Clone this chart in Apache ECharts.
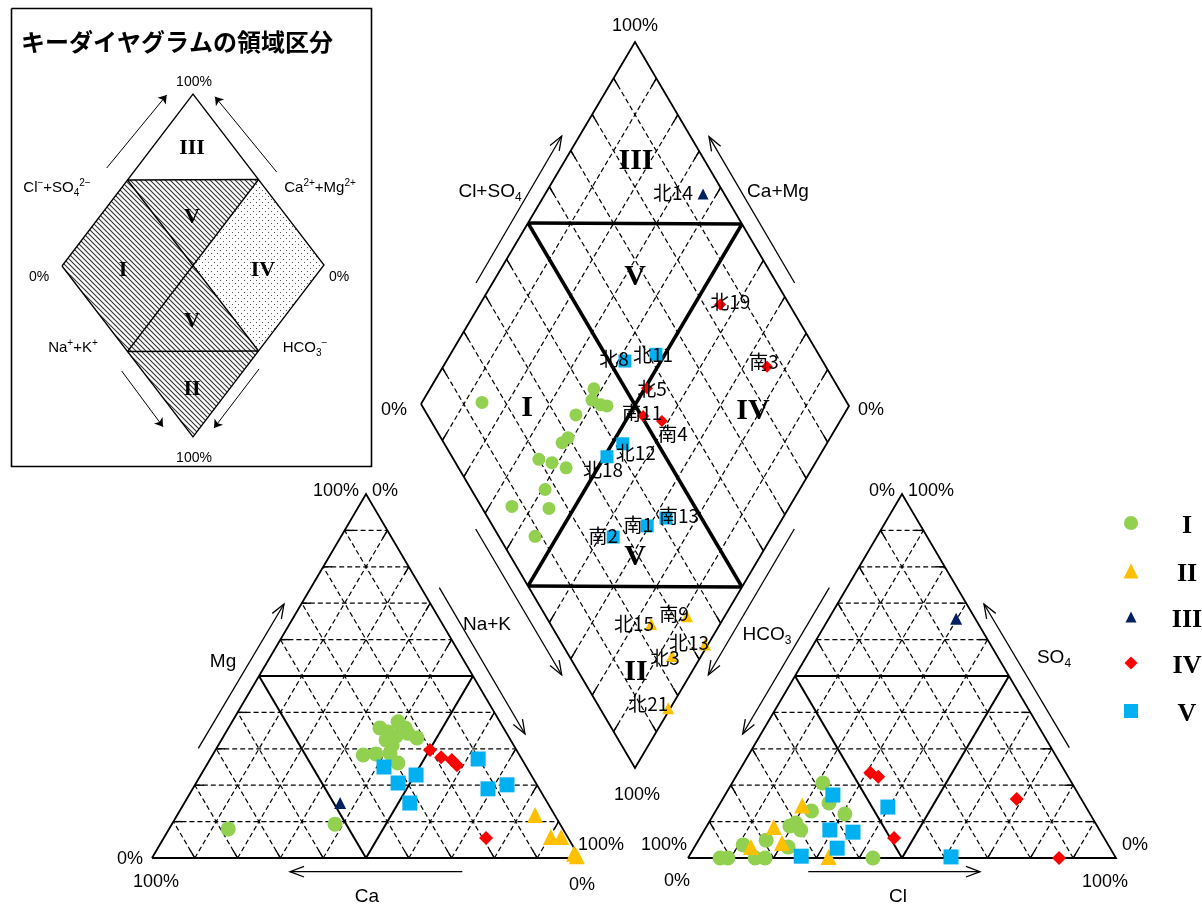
<!DOCTYPE html>
<html><head><meta charset="utf-8">
<script src="https://cdn.jsdelivr.net/npm/echarts@6/dist/echarts.min.js"></script>
<style>html,body{margin:0;padding:0;background:#fff}#c{width:1202px;height:908px}</style>
</head><body><div id="c"></div>
<script>
// ================= DATA =================
const GROUPS = ['I', 'II', 'III', 'IV', 'V'];
const TICK_ZERO = '0%', TICK_FULL = '100%';
const TITLE = 'キーダイヤグラムの領域区分';
const NAMES_II = ['北15', '南9', '北13', '北3', '北21'];
const NAMES_III = ['北14'];
const NAMES_IV = ['北19', '南3', '北5', '南11', '南4'];
const NAMES_V = ['北8', '北11', '北12', '北18', '南1', '南13', '南2'];

// cation triangle  [Ca, Mg, Na+K]  (%)
const catI = [[28.9,35.7,35.4],[23.8,37.4,38.8],[23.0,35.7,41.3],[27.6,34.6,37.8],[23.1,34.3,42.6],
  [21.6,33.0,45.4],[29.1,32.4,38.5],[28.4,31.0,40.6],[30.0,28.8,41.2],[36.5,28.3,35.2],
  [33.4,28.6,38.0],[29.5,26.1,44.4],[52.6,9.3,38.1],[78.2,8.0,13.8],[26.2,33.5,40.3]];
const catII = [[4.6,11.8,83.6],[3.9,5.8,90.3],[1.5,5.8,92.7],[0.5,0.5,99.0],[0.8,1.2,98.0]];
const catIII = [[48.5,15.1,36.4]];
const catIV = [[20.2,29.7,50.1],[18.6,27.7,53.7],[16.5,26.9,56.6],[16.0,25.5,58.5],[19.2,5.5,75.3]];
const catV = [[33.3,25.0,41.7],[32.2,20.6,47.2],[26.9,22.8,50.3],[32.2,15.1,52.7],[10.2,27.2,62.6],
  [12.0,19.0,69.0],[7.0,20.1,72.9]];

// anion triangle  [HCO3, SO4, Cl]  (%)
const anI = [[58.2,20.6,21.2],[59.5,15.1,25.4],[64.7,12.9,22.4],[57.3,12.1,30.6],[70.0,9.6,20.4],
  [71.8,8.8,19.4],[69.8,7.7,22.5],[79.3,4.9,15.8],[85.3,3.6,11.1],[75.1,3.0,21.9],
  [92.5,0,7.5],[90.7,0,9.3],[84.3,0,15.7],[82.0,0,18.0],[56.8,0,43.2]];
const anII = [[66.1,14.4,19.5],[75.7,8.5,15.8],[76.0,4.1,19.9],[83.8,3.0,13.2],[67.0,0.3,32.7]];
const anIII = [[4.5,65.7,29.8]];
const anIV = [[45.7,23.4,30.9],[44.4,22.3,33.3],[15.1,16.2,68.7],[49.1,5.5,45.4],[13.3,0,86.7]];
const anV = [[57.5,17.3,25.2],[46.3,14.0,39.7],[63.0,7.7,29.3],[57.9,7.1,35.0],[63.8,2.7,33.5],
  [73.3,0.5,26.2],[38.4,0.3,61.3]];

// diamond  [Cl+SO4, Na+K]  (%)
const dmI = [[14.5,14.0],[42.6,38.2],[40.6,39.3],[42.0,42.0],[43.3,43.6],[34.8,37.6],[29.8,38.9],
  [27.7,38.2],[20.0,35.1],[22.6,38.6],[25.2,42.6],[17.3,40.7],[7.2,35.3],[15.6,44.2],[8.5,44.8]];
const dmII = [[23.6,83.9],[33.1,91.2],[33.4,99.3],[24.1,93.2],[16.0,99.5]];
const dmIII = [[95.0,36.8]];
const dmIV = [[83.8,56.0],[86.2,75.5],[55.1,50.5],[50.4,53.4],[54.1,58.5]];
const dmV = [[53.7,41.6],[61.9,47.9],[41.8,52.5],[36.3,50.6],[36.2,69.5],[41.7,72.8],[26.7,63.1]];

// ================= LAYOUT / STYLE =================
const COLORS = ['#92D050', '#FFC000', '#002060', '#FF0000', '#00B0F0'];
const SYMBOLS = ['circle', 'triangle', 'triangle', 'diamond', 'rect'];
const SIZE_TRI = [15, 16, 12, 14, 15];
const SIZE_DM = [13, 12, 11, 12, 13];
const SIZE_LEG = [14, 15, 11, 13, 14];
const LABEL_OFF = {'北15':[-17,0],'南9':[-13,-2],'北13':[-16,-2],'北3':[-7,2],'北21':[-20,-4],
  '北14':[-30,-1],'北19':[10,-3],'南3':[-3,-5],'北5':[5,0],'南11':[-1,-3],'南4':[11,13],
  '北8':[-11,-2],'北11':[-3,1],'北12':[13,9],'北18':[-4,13],'南1':[-9,-1],'南13':[13,-2],'南2':[-10,-1]};

const CAT = {x0:152, y0:858, w:428, h:364};
const AN = {x0:688, y0:858, w:428, h:364};
const DM = {L:[421,404], T:[635,42], B:[635,768]};
const KEY = {L:[62,266], T:[193,94], B:[193,437]};

function triXY(T, a, b, g) { return [T.x0 + T.w * (b + g / 2), T.y0 - T.h * g]; }
function rhXY(D, a, c) {
  return [D.L[0] + a * (D.T[0] - D.L[0]) + c * (D.B[0] - D.L[0]),
          D.L[1] + a * (D.T[1] - D.L[1]) + c * (D.B[1] - D.L[1])];
}
const catXY = v => triXY(CAT, v[0] / 100, v[2] / 100, v[1] / 100);
const anXY = v => triXY(AN, v[0] / 100, v[2] / 100, v[1] / 100);
const dmXY = v => rhXY(DM, v[0] / 100, v[1] / 100);

// ---- structural segments ----
const solid = [], medium = [], dashed = [], ticks = [], thick = [], arrows = [];
function tickSeg(p, q, len) {
  const dx = q[0] - p[0], dy = q[1] - p[1], d = Math.hypot(dx, dy);
  return [p, [p[0] + dx / d * len, p[1] + dy / d * len]];
}
function triGrid(T, tickEnds) {
  const A = triXY(T, 1, 0, 0), B = triXY(T, 0, 1, 0), C = triXY(T, 0, 0, 1);
  solid.push([A, B, C, A]);
  for (let k = 1; k <= 9; k++) {
    const f = k / 10;
    const fam = {
      g: [triXY(T, 1 - f, 0, f), triXY(T, 0, 1 - f, f)],
      a: [triXY(T, f, 1 - f, 0), triXY(T, f, 0, 1 - f)],
      b: [triXY(T, 1 - f, f, 0), triXY(T, 0, f, 1 - f)]
    };
    for (const key of ['g', 'a', 'b']) {
      const s = fam[key];
      if (k === 5) { medium.push(s); continue; }
      dashed.push(s);
      const e = tickEnds[key];
      ticks.push(e === 0 ? tickSeg(s[0], s[1], 9) : tickSeg(s[1], s[0], 9));
    }
  }
}
triGrid(CAT, {g: 0, a: 0, b: 1});
triGrid(AN, {g: 1, a: 1, b: 0});

(function diamondGrid() {
  const L = rhXY(DM, 0, 0), T = rhXY(DM, 1, 0), R = rhXY(DM, 1, 1), B = rhXY(DM, 0, 1);
  solid.push([L, T, R, B, L]);
  for (let k = 1; k <= 9; k++) {
    if (k === 5) continue;
    const f = k / 10;
    const s1 = [rhXY(DM, f, 0), rhXY(DM, f, 1)], s2 = [rhXY(DM, 0, f), rhXY(DM, 1, f)];
    for (const s of [s1, s2]) {
      dashed.push(s);
      ticks.push(tickSeg(s[0], s[1], 9), tickSeg(s[1], s[0], 9));
    }
  }
  thick.push([rhXY(DM, .5, 0), rhXY(DM, .5, 1)], [rhXY(DM, 0, .5), rhXY(DM, 1, .5)],
             [rhXY(DM, .5, 0), rhXY(DM, 1, .5)], [rhXY(DM, 0, .5), rhXY(DM, .5, 1)]);
})();

// open arrows
function openArrow(p, q) {
  const ang = Math.atan2(q[1] - p[1], q[0] - p[0]), len = 15, sp = 0.36;
  arrows.push([p, q]);
  arrows.push([[q[0] - len * Math.cos(ang - sp), q[1] - len * Math.sin(ang - sp)], q,
               [q[0] - len * Math.cos(ang + sp), q[1] - len * Math.sin(ang + sp)]]);
}
[[[476,283],[561.7,136]], [[794.7,283],[709,136.7]], [[475.7,529],[561.7,675]], [[794.3,529],[708.3,675]],
 [[198.3,748.3],[284,604]], [[439.3,587.7],[525,734]], [[462.3,871.7],[290,871.7]],
 [[829.3,587.7],[742.7,734]], [[1069.3,747.7],[984,604]], [[808.3,871.7],[980,871.7]]]
  .forEach(a => openArrow(a[0], a[1]));

// key diagram
const keyLines = [];
(function () {
  const P = (a, c) => rhXY(KEY, a, c);
  keyLines.push([P(0,0), P(1,0), P(1,1), P(0,1), P(0,0)]);
  keyLines.push([P(.5,0), P(1,.5)], [P(0,.5), P(.5,1)], [P(.5,0), P(.5,1)], [P(0,.5), P(1,.5)]);
})();
const keyArrows = [[[106.7,168],[166.7,95]], [[276.7,172],[215,96.7]], [[121.7,371],[163,426.7]], [[259,369],[214,428]]];

function makeHatch() {
  const c = document.createElement('canvas'); c.width = c.height = 5;
  const g = c.getContext('2d'); g.strokeStyle = '#333'; g.lineWidth = 1.1;
  g.beginPath(); g.moveTo(-1, -1); g.lineTo(6, 6); g.moveTo(-1, 4); g.lineTo(1, 6); g.moveTo(4, -1); g.lineTo(6, 1); g.stroke();
  return c;
}
function makeDots() {
  const c = document.createElement('canvas'); c.width = c.height = 6;
  const g = c.getContext('2d'); g.fillStyle = '#555';
  g.fillRect(1, 1, 1, 1); g.fillRect(4, 4, 1, 1);
  return c;
}
const HATCH = {image: makeHatch(), repeat: 'repeat'};
const DOTS = {image: makeDots(), repeat: 'repeat'};
const KEY_POLYS = [
  {pts: [[.5,0],[1,.5],[.5,.5]], fill: HATCH},
  {pts: [[0,0],[.5,0],[.5,.5],[0,.5]], fill: HATCH},
  {pts: [[.5,.5],[.5,1],[0,.5]], fill: HATCH},
  {pts: [[0,.5],[.5,1],[0,1]], fill: HATCH},
  {pts: [[1,.5],[1,1],[.5,1],[.5,.5]], fill: DOTS}
];

// ================= TEXT =================
const SANS = 'Liberation Sans, Arial, sans-serif';
const SERIF = 'Liberation Serif, Times New Roman, serif';
const CJK = 'Noto Sans CJK JP, sans-serif';
const pctTexts = [
  [635,26,TICK_FULL],[394,410,TICK_ZERO],[871,410,TICK_ZERO],[637,795,TICK_FULL],
  [130,859,TICK_ZERO],[156,882,TICK_FULL],[336,491,TICK_FULL],[385,491,TICK_ZERO],[601,845,TICK_FULL],[582,885,TICK_ZERO],
  [882,491,TICK_ZERO],[931,491,TICK_FULL],[664,845,TICK_FULL],[677,881,TICK_ZERO],[1135,845,TICK_ZERO],[1105,882,TICK_FULL]
];
const axisTexts = [
  [490,192,'{n|Cl+SO}{s|4}'],[778,192,'{n|Ca+Mg}'],[487,625,'{n|Na+K}'],[767,635,'{n|HCO}{s|3}'],
  [223,662,'{n|Mg}'],[367,897,'{n|Ca}'],[1054,658,'{n|SO}{s|4}'],[898,897,'{n|Cl}']
];
const romanTexts = [[527,408,'I'],[636,161,'III'],[635,277,'V'],[753,411,'IV'],[635,557,'V'],[636,672,'II']];
const keyRoman = [[192,148,'III'],[192,217,'V'],[123,270,'I'],[263,270,'IV'],[192,321,'V'],[192,389,'II']];
const keyTexts = [
  [194,82,TICK_FULL],[194,458,TICK_FULL],[39,277,TICK_ZERO],[339,277,TICK_ZERO]
];
const keyIons = [
  [57,188,'{n|Cl}{p|−}{n|+SO}{s|4}{p|2−}'],[320,188,'{n|Ca}{p|2+}{n|+Mg}{p|2+}'],
  [73,348,'{n|Na}{p|+}{n|+K}{p|+}'],[305,348,'{n|HCO}{s|3}{p|−}']
];

// text drawn by a custom series (positions converted through the axes)
function textSeries(items, style, z) {
  return {
    type: 'custom', coordinateSystem: 'cartesian2d', silent: true, z: z || 7, animation: false,
    renderItem: (params, api) => {
      const it = items[params.dataIndex];
      const p = api.coord([it[0], it[1]]);
      return {type: 'text', x: p[0], y: p[1],
        style: Object.assign({text: it[2], fill: '#000', align: 'center', verticalAlign: 'middle'}, style)};
    },
    data: items.map(it => [it[0], it[1]])
  };
}
function linesSeries(segs, style, z) {
  return {
    type: 'lines', coordinateSystem: 'cartesian2d', polyline: true, silent: true, z: z || 2, animation: false,
    lineStyle: Object.assign({color: '#000', opacity: 1, curveness: 0}, style),
    data: segs.map(c => ({coords: c}))
  };
}

// ================= SERIES =================
const series = [];
series.push({
  type: 'custom', coordinateSystem: 'cartesian2d', silent: true, z: 1, animation: false,
  renderItem: (params, api) => {
    const poly = KEY_POLYS[params.dataIndex];
    return {type: 'polygon', shape: {points: poly.pts.map(p => api.coord(rhXY(KEY, p[0], p[1])))},
            style: {fill: poly.fill, stroke: null}};
  },
  data: KEY_POLYS.map(p => rhXY(KEY, p.pts[0][0], p.pts[0][1]))
});
series.push(linesSeries([[[11.5,8.5],[371.5,8.5],[371.5,466.5],[11.5,466.5],[11.5,8.5]]], {width: 1.6}));
series.push(linesSeries(keyLines, {width: 1.3}));
series.push({
  type: 'lines', coordinateSystem: 'cartesian2d', silent: true, z: 2, animation: false,
  symbol: ['none', 'arrow'], symbolSize: 8,
  lineStyle: {color: '#000', width: 1, opacity: 1, curveness: 0},
  data: keyArrows.map(c => ({coords: c}))
});
series.push(linesSeries(dashed, {width: 1.2, type: [5, 3]}));
series.push(linesSeries(ticks, {width: 1.4}));
series.push(linesSeries(solid, {width: 1.8}));
series.push(linesSeries(medium, {width: 2}));
series.push(linesSeries(thick, {width: 3.5}));
series.push(linesSeries(arrows, {width: 1.3}));

const catAll = [catI, catII, catIII, catIV, catV];
const anAll = [anI, anII, anIII, anIV, anV];
const dmAll = [dmI, dmII, dmIII, dmIV, dmV];
const dmNames = [null, NAMES_II, NAMES_III, NAMES_IV, NAMES_V];
const LEG_Y = [523, 571, 617, 663, 711];

for (let g = 0; g < 5; g++) {
  series.push({
    type: 'scatter', name: GROUPS[g], z: 4, animation: false, silent: true,
    symbol: SYMBOLS[g], symbolSize: SIZE_TRI[g], itemStyle: {color: COLORS[g], opacity: 1},
    data: catAll[g].map(catXY).concat(anAll[g].map(anXY))
  });
}
for (let g = 0; g < 5; g++) {
  series.push({
    type: 'scatter', name: GROUPS[g] + '-dm', z: 5, animation: false, silent: true,
    symbol: SYMBOLS[g], symbolSize: SIZE_DM[g], itemStyle: {color: COLORS[g], opacity: 1},
    data: dmAll[g].map(dmXY)
  });
}
// sample names in the diamond
const nameItems = [];
for (let g = 0; g < 5; g++) {
  const names = dmNames[g];
  if (!names) continue;
  dmAll[g].forEach((v, i) => {
    const p = dmXY(v), o = LABEL_OFF[names[i]];
    nameItems.push([p[0] + o[0], p[1] + o[1], names[i]]);
  });
}
// legend
for (let g = 0; g < 5; g++) {
  series.push({
    type: 'scatter', z: 5, animation: false, silent: true,
    symbol: SYMBOLS[g], symbolSize: SIZE_LEG[g], itemStyle: {color: COLORS[g], opacity: 1},
    data: [[1131, LEG_Y[g]]]
  });
}
const legendTexts = GROUPS.map((t, g) => [1187, LEG_Y[g] + 3, t]);

series.push(textSeries(nameItems, {fontSize: 19, fontFamily: CJK}));
series.push(textSeries(legendTexts, {fontSize: 26, fontFamily: SERIF, fontWeight: 'bold'}));
series.push(textSeries([[177, 42, TITLE]], {fontSize: 24, fontFamily: CJK, fontWeight: 'bold'}));
series.push(textSeries(pctTexts, {fontSize: 18, fontFamily: SANS}));
series.push(textSeries(keyTexts, {fontSize: 14, fontFamily: SANS}));
series.push(textSeries(axisTexts, {fontFamily: SANS, fontSize: 19, rich: {
  n: {fontSize: 19, fontFamily: SANS, lineHeight: 24, fill: '#000'},
  s: {fontSize: 12, fontFamily: SANS, lineHeight: 12, verticalAlign: 'bottom', fill: '#000'}
}}));
series.push(textSeries(keyIons, {fontFamily: SANS, fontSize: 15, rich: {
  n: {fontSize: 15, fontFamily: SANS, lineHeight: 20, fill: '#000'},
  s: {fontSize: 10, fontFamily: SANS, lineHeight: 10, verticalAlign: 'bottom', fill: '#000'},
  p: {fontSize: 10, fontFamily: SANS, lineHeight: 10, verticalAlign: 'top', fill: '#000'}
}}));
series.push(textSeries(romanTexts, {fontSize: 30, fontFamily: SERIF, fontWeight: 'bold'}));
series.push(textSeries(keyRoman, {fontSize: 22, fontFamily: SERIF, fontWeight: 'bold'}));

const chart = echarts.init(document.getElementById('c'), null, {renderer: 'canvas', width: 1202, height: 908});
chart.setOption({
  animation: false,
  backgroundColor: '#fff',
  grid: {left: 0, right: 0, top: 0, bottom: 0},
  xAxis: {type: 'value', min: 0, max: 1202, show: false},
  yAxis: {type: 'value', min: 0, max: 908, inverse: true, show: false},
  series: series
});
</script></body></html>
